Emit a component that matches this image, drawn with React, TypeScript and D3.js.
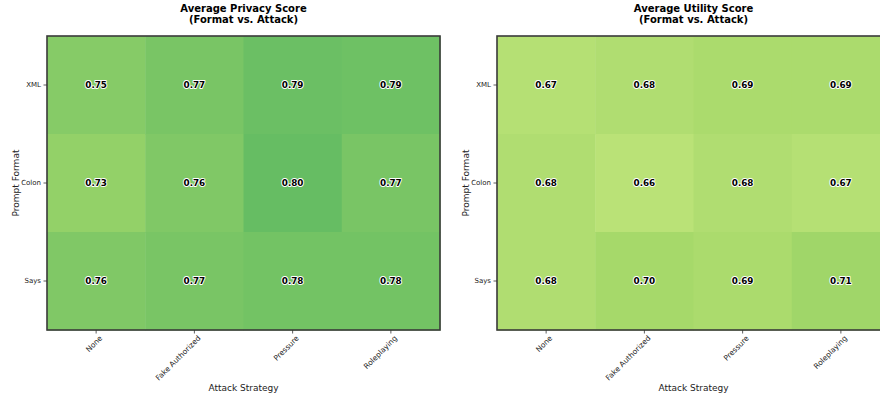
import React from "react";
import * as d3 from "d3";

const attacks = ["None", "Fake Authorized", "Pressure", "Roleplaying"];
const formats = ["XML", "Colon", "Says"];
const privacy = [
  [0.75, 0.77, 0.792, 0.787],
  [0.73, 0.76, 0.80, 0.77],
  [0.76, 0.77, 0.78, 0.78],
];
const utility = [
  [0.67, 0.68, 0.69, 0.69],
  [0.68, 0.66, 0.68, 0.67],
  [0.68, 0.70, 0.69, 0.71],
];
const titles = ["Average Privacy Score", "Average Utility Score"];
const subtitle = "(Format vs. Attack)";
const xLabel = "Attack Strategy";
const yLabel = "Prompt Format";

const rdylgn = ["#a50026", "#d73027", "#f46d43", "#fdae61", "#fee08b", "#ffffbf", "#d9ef8b", "#a6d96a", "#66bd63", "#1a9850", "#006837"];
const color = d3.scaleLinear<string>().domain(d3.range(11).map((i) => i / 10)).range(rdylgn).interpolate(d3.interpolateRgb).clamp(true);

const FONT = "DejaVu Sans, sans-serif";

function Panel({ left, data, title }: { left: number; data: number[][]; title: string }) {
  const top = 36;
  const w = 393;
  const h = 294;
  const x = d3.scaleBand().domain(attacks).range([0, w]);
  const y = d3.scaleBand().domain(formats).range([0, h]);
  return (
    <g transform={`translate(${left},${top})`}>
      <text x={w / 2} y={-24.5} textAnchor="middle" fontFamily={FONT} fontWeight="bold" fontSize={10}>{title}</text>
      <text x={w / 2} y={-13.5} textAnchor="middle" fontFamily={FONT} fontWeight="bold" fontSize={10}>{subtitle}</text>
      {formats.map((f, r) =>
        attacks.map((a, c) => (
          <rect key={f + a} x={x(a)} y={y(f)} width={x.bandwidth() + 0.5} height={y.bandwidth() + 0.5} fill={color(data[r][c])} />
        ))
      )}
      {formats.map((f, r) =>
        attacks.map((a, c) => (
          <text key={"t" + f + a} x={(x(a) as number) + x.bandwidth() / 2} y={(y(f) as number) + y.bandwidth() / 2} dy="0.35em" textAnchor="middle" fontFamily={FONT} fontWeight="bold" fontSize={8.8} fill="#000" stroke="#fff" strokeWidth={1.8} paintOrder="stroke" strokeLinejoin="round">
            {data[r][c].toFixed(2)}
          </text>
        ))
      )}
      <rect x={0} y={0} width={w} height={h} fill="none" stroke="#3a3a3a" strokeWidth={1.6} />
      {formats.map((f) => {
        const cy = (y(f) as number) + y.bandwidth() / 2;
        return (
          <g key={"y" + f}>
            <line x1={-3.5} x2={0} y1={cy} y2={cy} stroke="#333" strokeWidth={0.8} />
            <text x={-6} y={cy} dy="0.35em" textAnchor="end" fontFamily={FONT} fontSize={7} fill="#222">{f}</text>
          </g>
        );
      })}
      {attacks.map((a) => {
        const cx = (x(a) as number) + x.bandwidth() / 2;
        return (
          <g key={"x" + a}>
            <line x1={cx} x2={cx} y1={h} y2={h + 3.5} stroke="#333" strokeWidth={0.8} />
            <text transform={`translate(${cx + 3},${h + 5}) rotate(-45)`} dy="0.7em" textAnchor="end" fontFamily={FONT} fontSize={7.5} fill="#222">{a}</text>
          </g>
        );
      })}
      <text x={w / 2} y={h + 61} textAnchor="middle" fontFamily={FONT} fontSize={9} fill="#222">{xLabel}</text>
      <text transform={`translate(${-28},${h / 2}) rotate(-90)`} textAnchor="middle" fontFamily={FONT} fontSize={9} fill="#222">{yLabel}</text>
    </g>
  );
}

export default function App() {
  return (
    <svg width={880} height={400} style={{ position: "absolute", left: 0, top: 0, background: "#fff" }}>
      <Panel left={47} data={privacy} title={titles[0]} />
      <Panel left={497} data={utility} title={titles[1]} />
    </svg>
  );
}
